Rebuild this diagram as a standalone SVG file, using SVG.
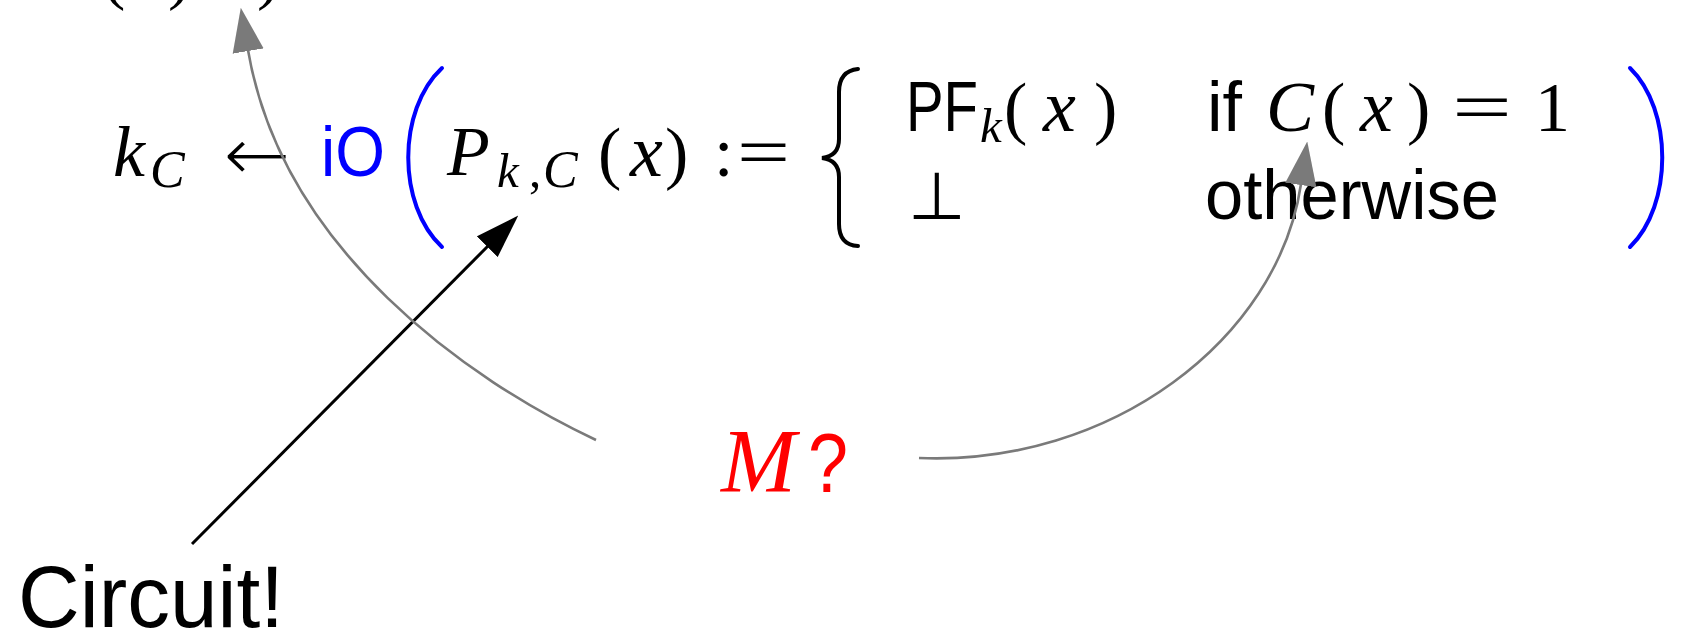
<svg xmlns="http://www.w3.org/2000/svg" width="1683" height="630" viewBox="0 0 1683 630">
<style>
.m{font-family:"Liberation Serif","Times New Roman",serif;font-size:70px;fill:#000}
.i{font-style:italic}
.x{font-size:74px}
.sub{font-size:49px}
.s{font-family:"Liberation Sans",Arial,sans-serif;font-size:70px;fill:#000}
.blue{fill:#0000ff}
.red{fill:#ff0000}
.delim{fill:none;stroke-width:4;stroke-linecap:round}
.gray{fill:none;stroke:#7a7a7a;stroke-width:2.6}
.blk{fill:none;stroke:#000;stroke-width:3}
</style>
<defs>
<marker id="hg" markerUnits="userSpaceOnUse" markerWidth="44" markerHeight="32" viewBox="0 0 42 30" refX="1" refY="15" orient="auto"><path d="M0,0 L42,15 L0,30 Z" fill="#7a7a7a"/></marker>
<marker id="hb" markerUnits="userSpaceOnUse" markerWidth="44" markerHeight="30" viewBox="0 0 42 28" refX="1" refY="14" orient="auto"><path d="M0,0 L42,14 L0,28 Z" fill="#000"/></marker>
</defs>
<rect width="1683" height="630" fill="#fff"/>
<g id="top-fragment">
<text class="m" x="102" y="-4">(</text>
<text class="m" x="168" y="-4">)</text>
<text class="m" x="257" y="-4">)</text>
</g>
<g id="formula">
<text class="m i" x="113" y="176" style="font-size:72px">k</text>
<text class="m i sub" x="150" y="187" style="font-size:52px">C</text>
<text x="222" y="182" style="font-family:'DejaVu Sans',sans-serif;font-size:80px;fill:#000;stroke:#fff;stroke-width:3" textLength="70" lengthAdjust="spacingAndGlyphs">←</text>
<text class="s blue" x="321" y="176" textLength="64" lengthAdjust="spacingAndGlyphs">iO</text>
<path class="delim" stroke="#0000ff" d="M442,68 C397,110 397,205 442,247"/>
<text class="m i" x="447" y="175">P</text>
<text class="m i sub" x="497" y="187">k</text>
<text class="m sub" x="529" y="187">,</text>
<text class="m i sub" x="543" y="187" style="font-size:52px">C</text>
<text class="m" x="598" y="176">(</text>
<text class="m i x" x="630" y="176">x</text>
<text class="m" x="665" y="176">)</text>
<text class="m" x="714" y="176">:</text>
<text class="m" x="737" y="176" textLength="53" lengthAdjust="spacingAndGlyphs">=</text>
<path class="delim" stroke="#000" d="M858,69 Q839,71 839,92 L839,139 Q839,156 822,158 Q839,160 839,177 L839,224 Q839,245 858,246"/>
<text class="s" x="906" y="131" textLength="72" lengthAdjust="spacingAndGlyphs">PF</text>
<text class="m i sub" x="980" y="142">k</text>
<text class="m" x="1004" y="131">(</text>
<text class="m i x" x="1043" y="131">x</text>
<text class="m" x="1094" y="131">)</text>
<text class="s" x="1207" y="131">if</text>
<text class="m i" x="1266" y="131" style="font-size:72px">C</text>
<text class="m" x="1322" y="131">(</text>
<text class="m i x" x="1360" y="131">x</text>
<text class="m" x="1407" y="131">)</text>
<text class="m" x="1452" y="131" textLength="60" lengthAdjust="spacingAndGlyphs">=</text>
<text class="m" x="1535" y="131">1</text>
<text x="908" y="219" style="font-family:'DejaVu Sans',sans-serif;font-size:66px">⊥</text>
<text class="s" x="1205" y="219" textLength="294" lengthAdjust="spacingAndGlyphs">otherwise</text>
<path class="delim" stroke="#0000ff" d="M1630,68 C1673,110 1673,205 1630,247"/>
</g>
<g id="m-question">
<text class="m i red" x="721" y="492" style="font-size:90px">M</text>
<text class="s red" x="808" y="492" style="font-size:84px" textLength="40" lengthAdjust="spacingAndGlyphs">?</text>
</g>
<g id="circuit">
<text class="s" x="18" y="627" style="font-size:87px" textLength="266" lengthAdjust="spacingAndGlyphs">Circuit!</text>
</g>
<g id="connectors">
<path class="blk" d="M192,544 L488,246" marker-end="url(#hb)"/>
<path class="gray" d="M596,440 C470,381 282,250 248,50" marker-end="url(#hg)"/>
<path class="gray" d="M919,458 C1110,466 1278,340 1301,184" marker-end="url(#hg)"/>
</g>
</svg>
